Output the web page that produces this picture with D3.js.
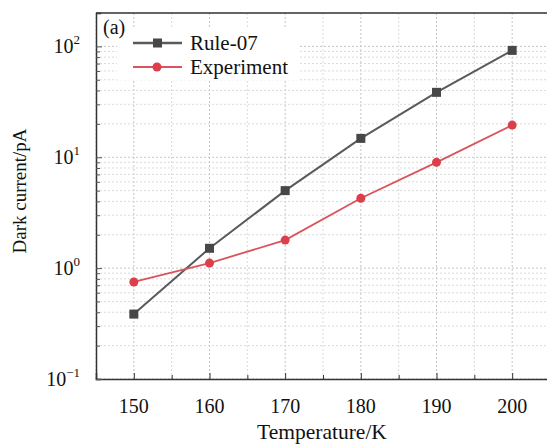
<!DOCTYPE html>
<meta charset="utf-8">
<style>
body { margin: 0; background: #fff; }
text { font-family: "Liberation Serif", "Times New Roman", serif; fill: #111; }
</style>
<body>
<script src="https://cdn.jsdelivr.net/npm/d3@7"></script>
<script>

var temps = [150, 160, 170, 180, 190, 200];
var rule07 = [0.385, 1.51, 5.0, 14.8, 38.5, 92];
var experiment = [0.75, 1.11, 1.79, 4.27, 9.0, 19.5];
var xTicks = [150, 160, 170, 180, 190, 200];
var yTicks = [0.1, 1, 10, 100];
var yTickExp = ["\u22121", "0", "1", "2"];

var w = 547,
    h = 445,
    pLeft = 96,
    pTop = 13,
    pRight = 550,
    pBottom = 379;

var svg = d3.select("body").append("svg")
    .attr("width", w)
    .attr("height", h);

var x = d3.scaleLinear().domain([145, 205]).range([pLeft, pRight]);
var y = d3.scaleLog().domain([0.1, 200]).range([pBottom, pTop]);

// minor positions
var xMinor = d3.range(145, 206, 5);
var yMinor = [];
[0.1, 1, 10, 100].forEach(function(d) {
  d3.range(1, 10).forEach(function(k) { if (d * k <= 200) yMinor.push(+(d * k).toPrecision(3)); });
});

var grid = svg.append("g");
grid.selectAll(".vg").data(xMinor).enter().append("line")
    .attr("x1", function(d) { return x(d); })
    .attr("x2", function(d) { return x(d); })
    .attr("y1", pTop).attr("y2", pBottom)
    .attr("stroke", function(d) { return d % 10 == 0 ? "#c4c4c4" : "#dadada"; })
    .attr("stroke-width", 1)
    .attr("stroke-dasharray", "2,2");
grid.selectAll(".hg").data(yMinor).enter().append("line")
    .attr("x1", pLeft).attr("x2", pRight)
    .attr("y1", function(d) { return y(d); })
    .attr("y2", function(d) { return y(d); })
    .attr("stroke", function(d) { return yTicks.indexOf(d) >= 0 ? "#c4c4c4" : "#dadada"; })
    .attr("stroke-width", 1)
    .attr("stroke-dasharray", "2,2");

// legend box hides grid
svg.append("rect")
    .attr("x", 117).attr("y", 29)
    .attr("width", 183).attr("height", 51)
    .attr("fill", "#fff");

// axes with inward ticks
var xAxis = svg.append("g")
    .attr("transform", "translate(0," + pBottom + ")")
    .call(d3.axisBottom(x).tickValues(xMinor).tickSize(-6).tickFormat(""));
xAxis.selectAll(".tick line").attr("y2", function(d) { return d % 10 == 0 ? -6 : -4; });
xAxis.select(".domain").attr("stroke", "#333").attr("stroke-width", 1.5);
xAxis.selectAll(".tick line").attr("stroke", "#333");

var yAxis = svg.append("g")
    .attr("transform", "translate(" + pLeft + ",0)")
    .call(d3.axisLeft(y).tickValues(yMinor).tickSize(-5).tickFormat(""));
yAxis.selectAll(".tick line").attr("x2", function(d) { return yTicks.indexOf(d) >= 0 ? 6 : 4; });
yAxis.select(".domain").attr("stroke", "#333").attr("stroke-width", 1.5);
yAxis.selectAll(".tick line").attr("stroke", "#555");

svg.append("line")
    .attr("x1", pLeft).attr("x2", pRight)
    .attr("y1", pTop).attr("y2", pTop)
    .attr("stroke", "#333").attr("stroke-width", 1.5);

// tick labels
svg.selectAll(".xl").data(xTicks).enter().append("text")
    .attr("x", function(d) { return x(d); })
    .attr("y", pBottom + 34)
    .attr("text-anchor", "middle")
    .attr("font-size", 20)
    .text(function(d) { return d; });

var yl = svg.selectAll(".yl").data(yTicks).enter().append("text")
    .attr("x", 80)
    .attr("y", function(d) { return y(d) + 7; })
    .attr("text-anchor", "end")
    .attr("font-size", 20);
yl.append("tspan").text("10");
yl.append("tspan")
    .attr("dy", -9)
    .attr("font-size", 13)
    .text(function(d, i) { return yTickExp[i]; });

// axis titles
svg.append("text")
    .attr("x", 322)
    .attr("y", 439)
    .attr("text-anchor", "middle")
    .attr("font-size", 21.5)
    .text("Temperature/K");

svg.append("text")
    .attr("transform", "translate(26,191) rotate(-90)")
    .attr("text-anchor", "middle")
    .attr("font-size", 19)
    .text("Dark current/pA");

svg.append("text")
    .attr("x", 103).attr("y", 34)
    .attr("font-size", 20)
    .text("(a)");

// series
var line = d3.line()
    .x(function(d) { return x(d[0]); })
    .y(function(d) { return y(d[1]); });

var ruleData = d3.zip(temps, rule07),
    expData = d3.zip(temps, experiment);

svg.append("path")
    .datum(ruleData)
    .attr("d", line)
    .attr("fill", "none")
    .attr("stroke", "#5a5a5a")
    .attr("stroke-width", 2);
svg.selectAll(".sq").data(ruleData).enter().append("rect")
    .attr("x", function(d) { return x(d[0]) - 4.5; })
    .attr("y", function(d) { return y(d[1]) - 4.5; })
    .attr("width", 9).attr("height", 9)
    .attr("fill", "#474747");

svg.append("path")
    .datum(expData)
    .attr("d", line)
    .attr("fill", "none")
    .attr("stroke", "#d9545c")
    .attr("stroke-width", 1.8);
svg.selectAll(".ci").data(expData).enter().append("circle")
    .attr("cx", function(d) { return x(d[0]); })
    .attr("cy", function(d) { return y(d[1]); })
    .attr("r", 4.5)
    .attr("fill", "#dc3f4a");

// legend
var lg = svg.append("g");
lg.append("line").attr("x1", 133).attr("x2", 182).attr("y1", 43).attr("y2", 43)
    .attr("stroke", "#5a5a5a").attr("stroke-width", 2.5);
lg.append("rect").attr("x", 153).attr("y", 38.5).attr("width", 9).attr("height", 9)
    .attr("fill", "#474747");
lg.append("text").attr("x", 190).attr("y", 50).attr("font-size", 21).text("Rule-07");
lg.append("line").attr("x1", 133).attr("x2", 182).attr("y1", 67).attr("y2", 67)
    .attr("stroke", "#d9545c").attr("stroke-width", 1.8);
lg.append("circle").attr("cx", 157).attr("cy", 67).attr("r", 4.5).attr("fill", "#dc3f4a");
lg.append("text").attr("x", 190).attr("y", 74).attr("font-size", 21).text("Experiment");

</script>
